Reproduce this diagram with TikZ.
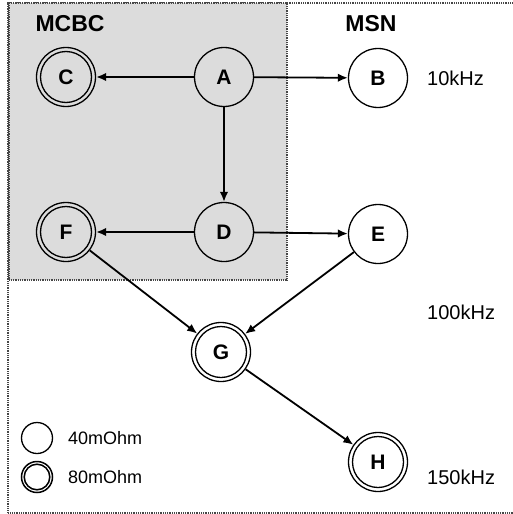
\documentclass[tikz,border=0pt]{standalone}
\usepackage{fontspec}
\setmainfont{Liberation Sans}
\usetikzlibrary{arrows.meta}
\definecolor{boxgray}{RGB}{220,220,220}
\definecolor{bordergray}{RGB}{70,70,70}
\begin{document}
\begin{tikzpicture}[x=1pt,y=-1pt,
  state/.style={draw, circle, line width=1.3pt, minimum size=59pt, inner sep=0pt, font=\fontsize{21}{23}\selectfont\bfseries},
  conn/.style={line width=1.8pt, -{Latex[length=10pt,width=8.5pt]}},
  lbl/.style={font=\fontsize{20}{22}\selectfont, anchor=west, inner sep=0pt},
  title/.style={font=\fontsize{23}{25}\selectfont\bfseries, inner sep=0pt},
  legtxt/.style={font=\fontsize{18}{20}\selectfont, anchor=west, inner sep=0pt},
  frame/.style={draw=bordergray, dash pattern=on 1pt off 0.8pt, line width=1.2pt}]
\useasboundingbox (0,0) rectangle (513,514);
% outer frame
\draw[frame] (520,3) -- (8,3) -- (8,513) -- (520,513);
% MCBC box
\path[frame, fill=boxgray] (9,3) rectangle (287,280);
\node[title] (mcbc) at (70,24) {MCBC};
\node[title] (msn) at (371,24) {MSN};
% nodes
\node[state] (A) at (224,77) {A};
\node[state] (C) at (66,77) {C};
\node[state] (B) at (378,78) {B};
\node[state] (D) at (224,232) {D};
\node[state] (F) at (66,232) {F};
\node[state] (E) at (378,234) {E};
\node[state] (G) at (221,352) {G};
\node[state] (H) at (378,462) {H};
\foreach \n in {C,F,G,H}{\draw[line width=1.3pt] (\n.center) circle[radius=25.5];}
% frequency labels
\node[lbl] (f1) at (427,78) {10kHz};
\node[lbl] (f2) at (427,312) {100kHz};
\node[lbl] (f3) at (427,477) {150kHz};
% connectors
\draw[conn] (A) -- (C);
\draw[conn] (A) -- (B);
\draw[conn] (A) -- (D);
\draw[conn] (D) -- (F);
\draw[conn] (D) -- (E);
\draw[conn] (F) -- (G);
\draw[conn] (E) -- (G);
\draw[conn] (G) -- (H);
% legend
\node[draw, circle, line width=1.3pt, minimum size=31pt, inner sep=0pt] (l1) at (37,438) {};
\node[draw, circle, line width=1.5pt, minimum size=31pt, inner sep=0pt] (l2) at (37,477) {};
\draw[line width=1.5pt] (l2.center) circle[radius=12.8];
\node[legtxt] (t1) at (68,438) {40mOhm};
\node[legtxt] (t2) at (68,477) {80mOhm};
\end{tikzpicture}
\end{document}
